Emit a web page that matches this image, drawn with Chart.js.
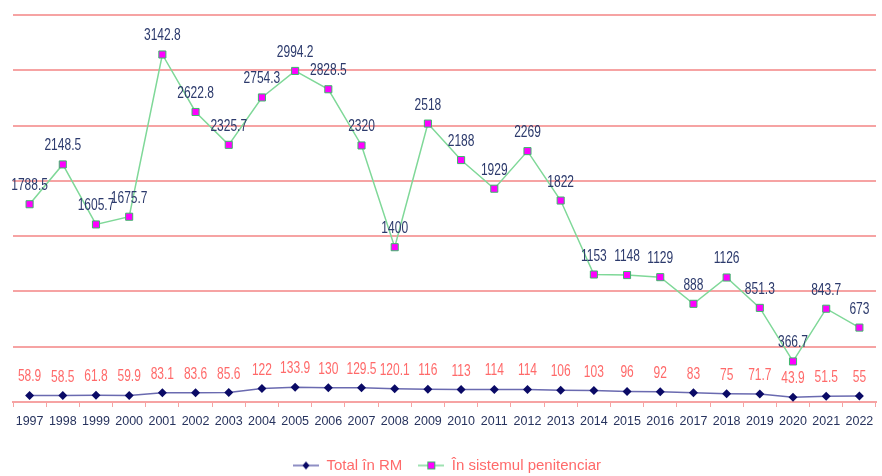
<!DOCTYPE html>
<html>
<head>
<meta charset="utf-8">
<script src="https://cdn.jsdelivr.net/npm/chart.js@4.4.1/dist/chart.umd.min.js"></script>
<style>
  body { margin: 0; background: #fff; }
</style>
</head>
<body>
<canvas id="chart" width="882" height="476"></canvas>
<script>
const years = ['1997', '1998', '1999', '2000', '2001', '2002', '2003', '2004', '2005', '2006', '2007', '2008', '2009',
    '2010', '2011', '2012', '2013', '2014', '2015', '2016', '2017', '2018', '2019', '2020', '2021', '2022'];
const totalRM = [58.9, 58.5, 61.8, 59.9, 83.1, 83.6, 85.6, 122, 133.9, 130, 129.5, 120.1, 116,
    113, 114, 114, 106, 103, 96, 92, 83, 75, 71.7, 43.9, 51.5, 55];
const penitentiary = [1788.5, 2148.5, 1605.7, 1675.7, 3142.8, 2622.8, 2325.7, 2754.3, 2994.2, 2828.5, 2320, 1400, 2518,
    2188, 1929, 2269, 1822, 1153, 1148, 1129, 888, 1126, 851.3, 366.7, 843.7, 673];
const seriesNames = ['Total în RM', 'În sistemul penitenciar'];

const pink = '#f6a3a3';
const font = 'Liberation Sans, Arial, sans-serif';

// small line+marker icons for the legend
function legendIcon(lineColor, draw) {
    const c = document.createElement('canvas');
    c.width = 26;
    c.height = 10;
    const ctx = c.getContext('2d');
    ctx.strokeStyle = lineColor;
    ctx.lineWidth = 1.5;
    ctx.beginPath();
    ctx.moveTo(0, 5);
    ctx.lineTo(26, 5);
    ctx.stroke();
    draw(ctx);
    return c;
}
const iconTotal = legendIcon('#6a6ab0', (ctx) => {
    ctx.fillStyle = '#0a0a66';
    ctx.beginPath();
    ctx.moveTo(13, 1);
    ctx.lineTo(16.5, 5);
    ctx.lineTo(13, 9);
    ctx.lineTo(9.5, 5);
    ctx.closePath();
    ctx.fill();
});
const iconPen = legendIcon('#7fd898', (ctx) => {
    ctx.fillStyle = '#ff00ff';
    ctx.fillRect(9.5, 1.5, 7, 7);
    ctx.strokeStyle = '#3cb96a';
    ctx.lineWidth = 1;
    ctx.strokeRect(9.5, 1.5, 7, 7);
});

// value labels above every point (text a bit narrow, like the original)
const valueLabels = {
    id: 'valueLabels',
    afterDatasetsDraw(chart) {
        const ctx = chart.ctx;
        chart.data.datasets.forEach((ds, i) => {
            const meta = chart.getDatasetMeta(i);
            meta.data.forEach((pt, j) => {
                ctx.save();
                ctx.translate(pt.x, pt.y - 14);
                ctx.scale(0.75, 1);
                ctx.textAlign = 'center';
                ctx.textBaseline = 'alphabetic';
                ctx.fillStyle = ds.labelColor;
                ctx.font = '16px ' + font;
                ctx.fillText(String(ds.data[j]), 0, 0);
                ctx.restore();
            });
        });
    }
};

const legendFit = {
    id: 'legendFit',
    beforeInit(chart) {
        const fit = chart.legend.fit;
        chart.legend.fit = function () {
            fit.call(this);
            this.height = 34;
        };
    }
};

new Chart(document.getElementById('chart'), {
    type: 'line',
    data: {
        labels: years,
        datasets: [
            {
                label: seriesNames[0],
                data: totalRM,
                borderColor: '#6a6ab0',
                borderWidth: 1.5,
                pointStyle: 'rectRot',
                pointRadius: 4.5,
                pointBackgroundColor: '#0a0a66',
                pointBorderColor: '#0a0a66',
                pointBorderWidth: 0,
                labelColor: '#ff6a6a',
                tension: 0,
            },
            {
                label: seriesNames[1],
                data: penitentiary,
                borderColor: '#7fd898',
                borderWidth: 1.5,
                pointStyle: 'rect',
                pointRadius: 5,
                pointBackgroundColor: '#ff00ff',
                pointBorderColor: '#3cb96a',
                pointBorderWidth: 1,
                labelColor: '#2c3a6c',
                tension: 0,
            },
        ],
    },
    options: {
        responsive: false,
        animation: false,
        layout: { padding: { top: 15, left: 13, right: 1, bottom: 0 } },
        scales: {
            x: {
                offset: true,
                grid: { offset: true, drawOnChartArea: false, drawTicks: true, tickLength: 5, color: pink },
                border: { color: pink, width: 2 },
                ticks: {
                    color: '#27335e',
                    font: { size: 12.5, family: font },
                    padding: 7,
                    maxRotation: 0,
                    autoSkip: false,
                },
                afterFit: (scale) => { scale.height += 6; },
            },
            y: {
                min: 0,
                max: 3500,
                ticks: { display: false, stepSize: 500 },
                grid: { color: pink, lineWidth: 2, drawTicks: false },
                border: { display: false },
            },
        },
        plugins: {
            tooltip: { enabled: false },
            legend: {
                position: 'bottom',
                labels: {
                    usePointStyle: true,
                    pointStyleWidth: 26,
                    padding: 16,
                    color: '#ff6a6a',
                    font: { size: 15, family: font },
                    generateLabels(chart) {
                        const items = Chart.defaults.plugins.legend.labels.generateLabels(chart);
                        items[0].pointStyle = iconTotal;
                        items[1].pointStyle = iconPen;
                        return items;
                    },
                },
            },
        },
    },
    plugins: [valueLabels, legendFit],
});
</script>
</body>
</html>
